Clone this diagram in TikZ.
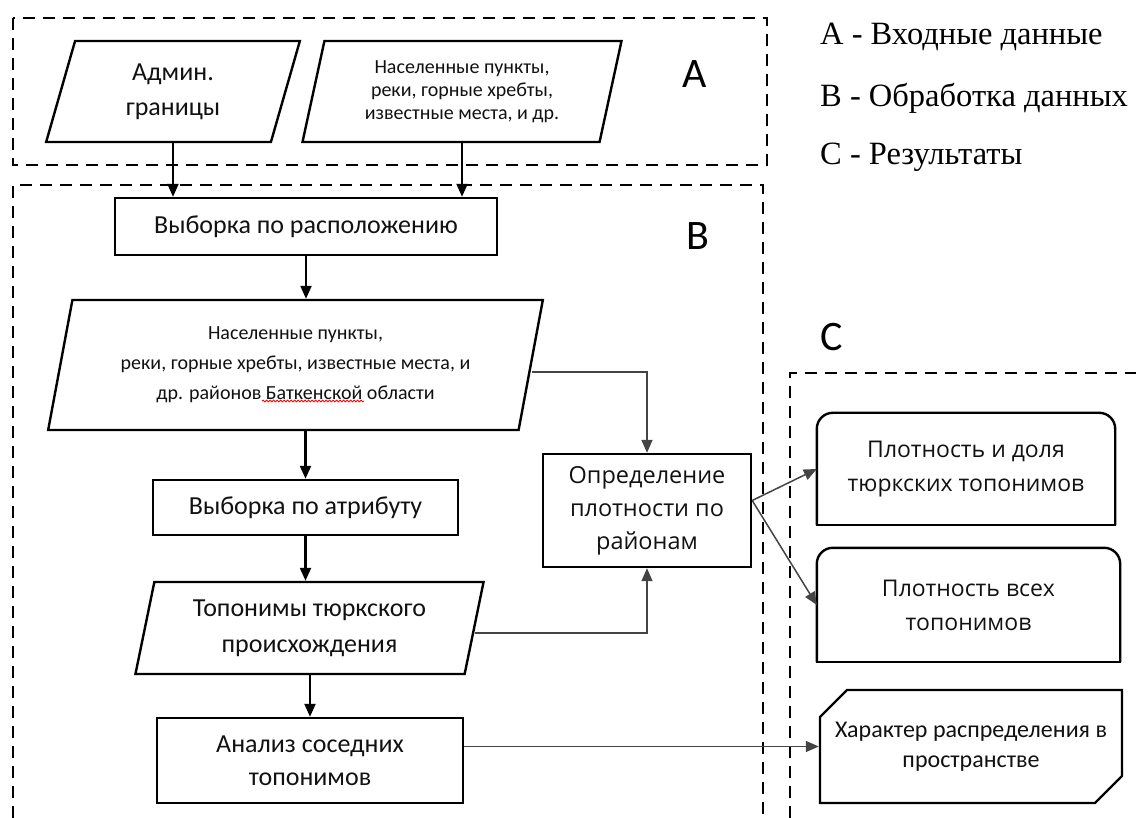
\documentclass[tikz,border=0pt]{standalone}
\usepackage{fontspec}
\setmainfont{Carlito}
\newfontfamily\widefont{Open Sans}
\newfontfamily\legendfont{Liberation Serif}
\usetikzlibrary{arrows.meta,shapes.geometric,shapes.misc,decorations.pathmorphing}
\definecolor{textgray}{HTML}{111111}
\definecolor{linkgray}{HTML}{444444}

\begin{document}
\begin{tikzpicture}[
  x=1pt, y=-1pt,
  grp/.style={line width=2.8pt, dash pattern=on 12pt off 8pt},
  inbox/.style={trapezium, trapezium stretches=true, trapezium left angle=76, trapezium right angle=104, draw, line width=2.4pt, inner sep=0pt, align=center, text=textgray},
  proc/.style={rectangle, draw, line width=2.4pt, inner sep=0pt, align=center, text=textgray},
  outbox/.style={rectangle, inner sep=0pt, align=center, text=textgray},
  flow/.style={-{Triangle[length=13pt,width=11pt]}, line width=2.2pt},
  link/.style={-{Triangle[length=13pt,width=11pt]}, draw=linkgray, line width=1.5pt},
  tag/.style={font=\fontsize{42}{42}\selectfont},
  legend/.style={anchor=west, inner sep=0pt, font=\legendfont\fontsize{32.5}{32.5}\selectfont}
]
  \useasboundingbox (0,0) rectangle (1136,818);

  % groups
  \draw[grp] (13,18) rectangle (767,165);
  \draw[grp] (13,818) -- (13,185) -- (763,185) -- (763,818);
  \draw[grp] (790,818) -- (790,373) -- (1136,373);
  \node[tag] (ta) at (695,74) {A};
  \node[tag] (tb) at (698,236) {B};
  \node[tag] (tc) at (832,337) {C};

  % legend
  \node[legend] (la) at (820,37) {A - Входные данные};
  \node[legend] (lb) at (820,98) {B - Обработка данных};
  \node[legend] (lc) at (820,157) {C - Результаты};

  % input data
  \node[inbox, minimum width=254pt, minimum height=101pt, font=\fontsize{26}{35}\selectfont] (p1) at (173,91.5) {Админ.\\границы};
  \node[inbox, minimum width=320pt, minimum height=101pt, font=\fontsize{20}{23}\selectfont] (p2) at (462,91.5) {Населенные пункты,\\реки, горные хребты,\\известные места, и др.};

  % processing
  \node[proc, minimum width=382pt, minimum height=57pt, font=\fontsize{26}{30}\selectfont] (sel1) at (306,226.5) {Выборка по расположению};
  \node[inbox, minimum width=495pt, minimum height=130pt, font=\fontsize{20}{30}\selectfont] (p3) at (295.5,365) {Населенные пункты,\\реки, горные хребты, известные места, и\\др. районов Баткенской области};
  \draw[red, line width=0.8pt, decorate, decoration={snake, amplitude=0.9pt, segment length=3.5pt}] (262,401) -- (364,401);
  \node[proc, minimum width=305pt, minimum height=55pt, font=\fontsize{26}{30}\selectfont] (sel2) at (305.5,507.5) {Выборка по атрибуту};
  \node[inbox, minimum width=349pt, minimum height=92pt, font=\fontsize{26}{36}\selectfont] (p4) at (309.5,628) {Топонимы тюркского\\происхождения};
  \node[proc, minimum width=306pt, minimum height=85pt, font=\fontsize{26}{33}\selectfont] (ana) at (310,760.5) {Анализ соседних\\топонимов};
  \node[proc, minimum width=208pt, minimum height=113pt, font=\widefont\fontsize{23.5}{33}\selectfont] (opr) at (647,510.5) {Определение\\плотности по\\районам};

  % results
  \node[outbox, minimum width=298pt, minimum height=112pt, font=\widefont\fontsize{23}{34}\selectfont] (res1) at (966,469) {Плотность и доля\\тюркских топонимов};
  \node[outbox, minimum width=303pt, minimum height=114pt, font=\widefont\fontsize{23}{34}\selectfont] (res2) at (968.5,605) {Плотность всех\\топонимов};
  \foreach \n in {res1,res2} {
    \draw[line width=2.4pt, rounded corners=16pt] (\n.south west) -- (\n.north west) -- (\n.north east) -- (\n.south east);
    \draw[line width=2.4pt, line cap=rect] (\n.south west) -- (\n.south east);
  }
  \node[chamfered rectangle, chamfered rectangle corners={north west,south east}, chamfered rectangle xsep=13pt, chamfered rectangle ysep=14pt, draw, line width=2.4pt, inner sep=0pt, align=center, text=textgray, minimum width=302pt, minimum height=113pt, font=\fontsize{24}{30}\selectfont] (res3) at (971,746.5) {Характер распределения в\\пространстве};

  % connectors
  \draw[flow] (p1.south) -- (p1.south |- sel1.north);
  \draw[flow] (p2.south) -- (p2.south |- sel1.north);
  \draw[flow] (sel1.south) -- (sel1.south |- p3.north);
  \draw[flow] (p3.south -| sel2.north) -- (sel2.north);
  \draw[flow] (sel2.south) -- (sel2.south |- p4.north);
  \draw[flow] (p4.south -| ana.north) -- (ana.north);
  \draw[link] ([yshift=-7pt]p3.east) -| (opr.north);
  \draw[link] ([yshift=-5pt]p4.east) -| (opr.south);
  \draw[link] ([yshift=10pt]opr.east) -- (res1.west);
  \draw[link] ([yshift=10pt]opr.east) -- (res2.west);
  \draw[link] (ana.east |- res3.west) -- (res3.west);
\end{tikzpicture}
\end{document}
